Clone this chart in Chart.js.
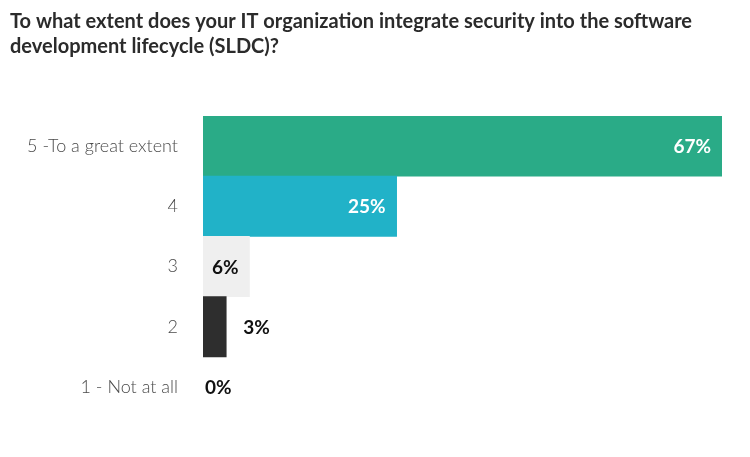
<!DOCTYPE html>
<html>
<head>
<meta charset="utf-8">
<script src="https://cdn.jsdelivr.net/npm/chart.js@4"></script>
<style>
  html, body { margin: 0; padding: 0; background: #fff; }
  #wrap { width: 750px; height: 457px; }
</style>
</head>
<body>
<div id="wrap"><canvas id="chart" width="750" height="457"></canvas></div>
<script>
// Survey answers and share of respondents (%)
const categories = ['5 -To a great extent', '4', '3', '2', '1 - Not at all'];
const values = [67, 25, 6, 3, 0];
const barColors = ['#2aab87', '#21b2c8', '#efefef', '#2e2e2e', 'rgba(0,0,0,0)'];
const insideTextColors = ['#ffffff', '#ffffff', '#111111', '#ffffff', '#111111'];

// Draw the "67%" style labels on or next to each bar
const valueLabels = {
    id: 'valueLabels',
    afterDatasetsDraw(chart) {
        const ctx = chart.ctx;
        const meta = chart.getDatasetMeta(0);
        ctx.save();
        ctx.font = 'bold 19px Lato';
        ctx.textBaseline = 'middle';
        meta.data.forEach((bar, i) => {
            const text = values[i] + '%';
            const w = ctx.measureText(text).width;
            const barWidth = bar.x - bar.base;
            if (barWidth > w + 16) {
                ctx.textAlign = 'right';
                ctx.fillStyle = insideTextColors[i];
                ctx.fillText(text, bar.x - 11, bar.y + 1);
            } else {
                ctx.textAlign = 'left';
                ctx.fillStyle = '#111111';
                ctx.fillText(text, bar.x + (values[i] > 0 ? 17 : 2), bar.y + 1);
            }
        });
        ctx.restore();
    }
};

const ctx = document.getElementById('chart').getContext('2d');
const chart = new Chart(ctx, {
    type: 'bar',
    data: {
        labels: categories,
        datasets: [{
            data: values,
            backgroundColor: barColors,
            borderWidth: 0,
            barPercentage: 1,
            categoryPercentage: 1
        }]
    },
    options: {
        indexAxis: 'y',
        responsive: false,
        animation: false,
        layout: {
            padding: { left: 10, right: 28, top: 4, bottom: 40 }
        },
        plugins: {
            legend: { display: false },
            tooltip: { enabled: false },
            title: {
                display: true,
                align: 'start',
                text: [
                    'To what extent does your IT organization integrate security into the software',
                    'development lifecycle (SLDC)?'
                ],
                color: '#2b2b2b',
                font: { family: 'Lato', size: 20, weight: 'bold', lineHeight: 1.25 },
                padding: { top: 5, bottom: 57 }
            }
        },
        scales: {
            x: {
                display: false,
                min: 0,
                max: 67
            },
            y: {
                grid: { display: false },
                border: { display: false },
                afterFit(scale) {
                    scale.width = 193;
                },
                ticks: {
                    color: '#4a4a4a',
                    padding: 17,
                    font: { family: 'Lato', size: 18, weight: '300' }
                }
            }
        }
    },
    plugins: [valueLabels]
});
</script>
</body>
</html>
